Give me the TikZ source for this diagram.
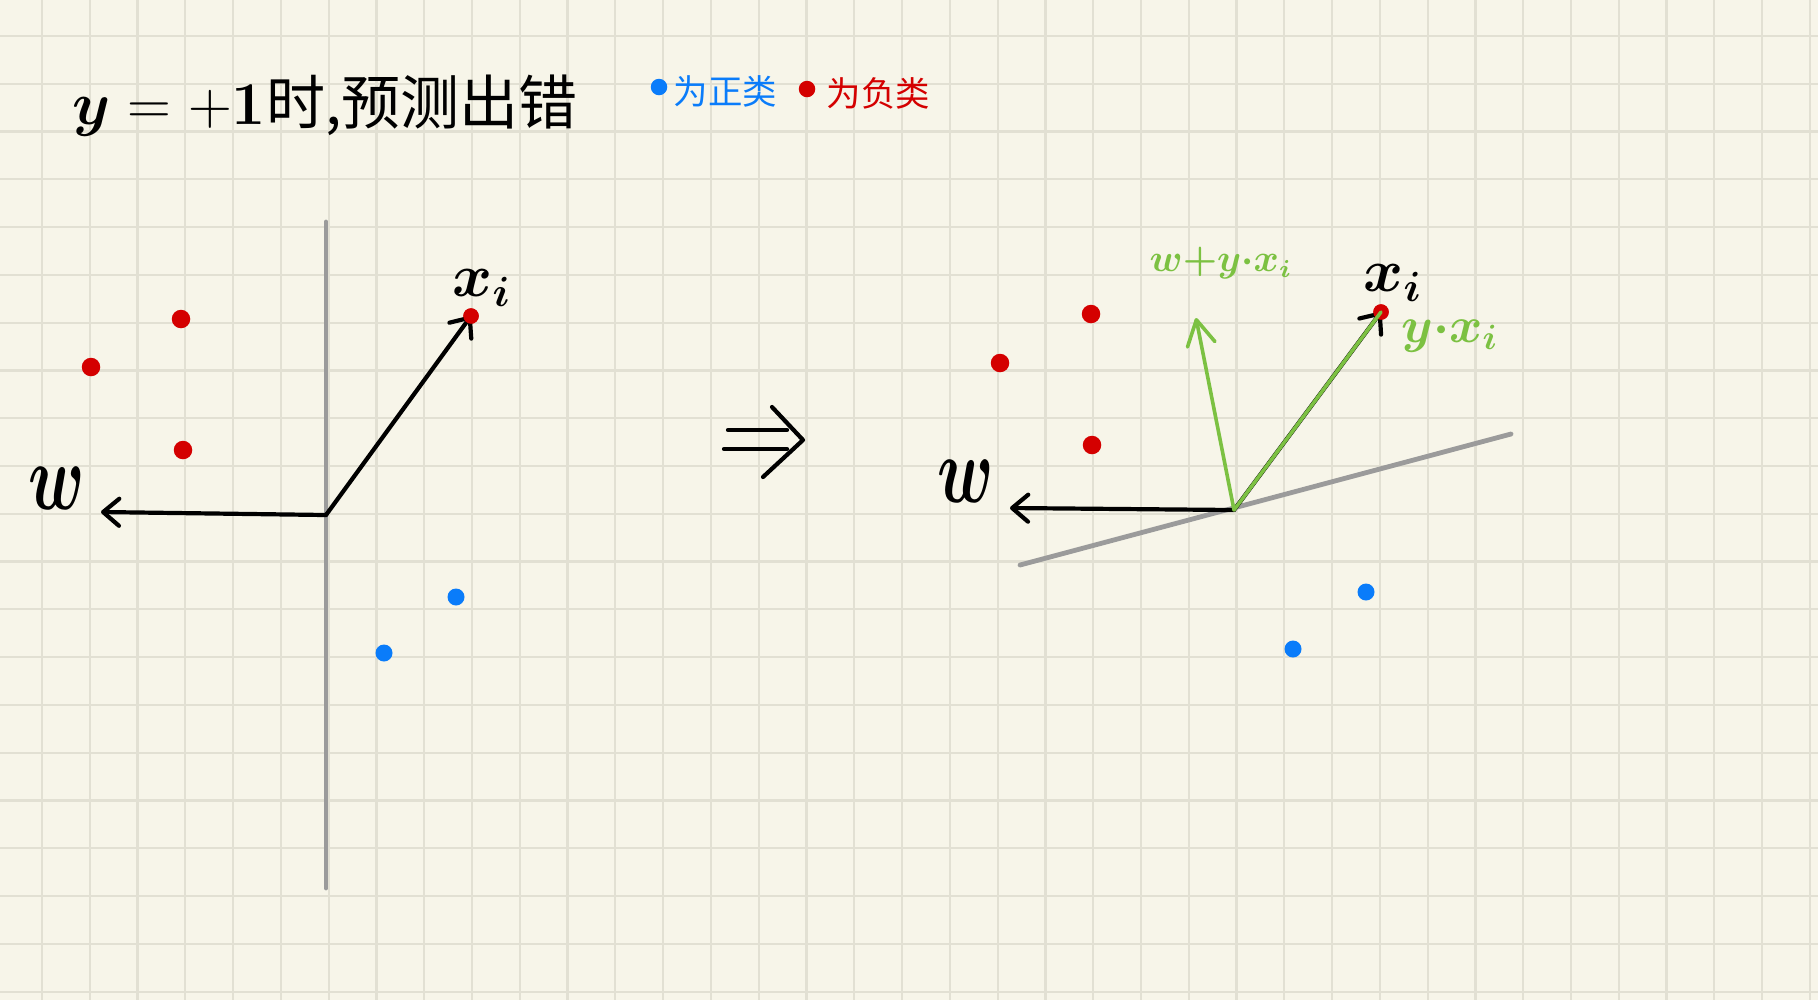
\documentclass[tikz,border=0pt]{standalone}
\usepackage{fontspec}
\usepackage{bm}
\newfontfamily\cjk{Noto Sans CJK SC}
\usetikzlibrary{arrows.meta}
\definecolor{bg}{HTML}{F7F5E9}
\definecolor{gridc}{HTML}{E2E0D3}
\definecolor{rdot}{HTML}{D40000}
\definecolor{bdot}{HTML}{0A7CFA}
\definecolor{grn}{HTML}{7CC142}
\definecolor{gline}{HTML}{9B9B9B}
\begin{document}
\begin{tikzpicture}[x=0.1mm,y=-0.1mm,
  reddot/.style={circle,fill=rdot,inner sep=0pt,minimum size=1.85mm},
  xidot/.style={circle,fill=rdot,inner sep=0pt,minimum size=1.55mm},
  bluedot/.style={circle,fill=bdot,inner sep=0pt,minimum size=1.7mm},
  vec/.style={black,line width=0.42mm,line cap=round,-{Straight Barb[length=1.6mm,width=2.7mm,round]}},
  gvec/.style={grn,line width=0.36mm,line cap=round,-{Straight Barb[length=2.5mm,width=2.8mm,round]}},
  sepline/.style={gline,line width=0.48mm,line cap=round},
  lab/.style={inner sep=0pt},
]
\fill[bg] (0,0) rectangle (1818,1000);
\useasboundingbox (0,0) rectangle (1818,1000);
\foreach \i in {0,...,37} \draw[gridc,line width=0.22mm] ({42+47.78*\i},0) -- ({42+47.78*\i},1000);
\foreach \j in {0,...,20} \draw[gridc,line width=0.22mm] (0,{36+47.78*\j}) -- (1818,{36+47.78*\j});

% title
\node[lab,anchor=base west] (title) at (72,124)
  {\fontsize{16.8}{20}\selectfont $\bm{y}=+\bm{1}$\cjk 时,预测出错};
% legend
\node[bluedot,minimum size=1.65mm] (lgb) at (659,87) {};
\node[lab,anchor=west,text=bdot] (lgbt) at (673,91) {\fontsize{9.8}{11}\selectfont\cjk 为正类};
\node[reddot,minimum size=1.65mm] (lgr) at (807,89) {};
\node[lab,anchor=west,text=rdot] (lgrt) at (826,93) {\fontsize{9.8}{11}\selectfont\cjk 为负类};

% ---------- left diagram ----------
\coordinate (O1) at (326,515);
\coordinate (s1a) at (326,222);
\coordinate (s1b) at (326,888);
\coordinate (w1) at (101,512);
\draw[sepline] (s1a) -- (s1b);
\node[xidot] (xi1) at (471,316) {};
\draw[vec] (O1) -- (w1);
\draw[vec] (O1) -- (xi1.center);
\node[xidot] (xi1b) at (471,316) {};
\node[reddot] (r1a) at (181,319) {};
\node[reddot] (r1b) at (91,367) {};
\node[reddot] (r1c) at (183,450) {};
\node[bluedot] (b1a) at (456,597) {};
\node[bluedot] (b1b) at (384,653) {};
\node[lab] (wl1) at (57,488) {\fontsize{20}{22}\selectfont\scalebox{0.9}[1.3]{$\bm{w}$}};
\node[lab] (xl1) at (482,288) {\fontsize{18}{20}\selectfont $\bm{x_i}$};

% ---------- implication ----------
\draw[black,line width=0.42mm,line cap=round] (728,430) -- (787,430);
\draw[black,line width=0.42mm,line cap=round] (724,449) -- (787,449);
\draw[black,line width=0.42mm,line cap=round,line join=round] (772,407) -- (803,440) -- (763,477);

% ---------- right diagram ----------
\coordinate (O2) at (1234,510);
\coordinate (s2a) at (1020,565);
\coordinate (s2b) at (1511,434);
\coordinate (w2) at (1010,508);
\coordinate (g2) at (1196,318);
\draw[sepline] (s2a) -- (s2b);
\node[xidot] (xi2) at (1381,312) {};
\draw[vec] (O2) -- (w2);
\draw[vec] (O2) -- (xi2.center);
\node[xidot] (xi2b) at (1381,312) {};
\draw[grn,line width=0.36mm,line cap=round] (O2) -- (xi2.center);
\draw[gvec] (O2) -- (g2);
\node[reddot] (r2a) at (1091,314) {};
\node[reddot] (r2b) at (1000,363) {};
\node[reddot] (r2c) at (1092,445) {};
\node[bluedot] (b2a) at (1366,592) {};
\node[bluedot] (b2b) at (1293,649) {};
\node[lab] (wl2) at (966,481) {\fontsize{20}{22}\selectfont\scalebox{0.9}[1.3]{$\bm{w}$}};
\node[lab] (xl2) at (1393,283) {\fontsize{18}{20}\selectfont $\bm{x_i}$};
\node[lab,text=grn] (gl1) at (1221,263) {\fontsize{10.6}{12}\selectfont $\bm{w{+}y{\cdot}x_i}$};
\node[lab,text=grn] (gl2) at (1450,335) {\fontsize{14.5}{17}\selectfont $\bm{y{\cdot}x_i}$};
\end{tikzpicture}
\end{document}
